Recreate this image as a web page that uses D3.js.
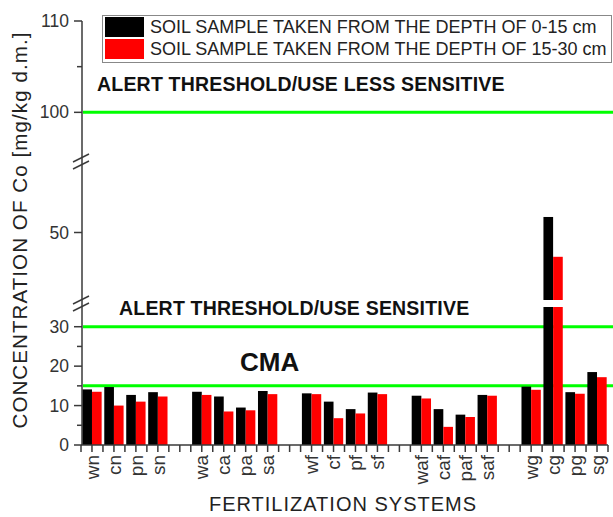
<!DOCTYPE html>
<html>
<head>
<meta charset="utf-8">
<script src="https://cdn.jsdelivr.net/npm/d3@7"></script>
<style>
  body { margin: 0; background: #fff; }
  svg { display: block; font-family: "Liberation Sans", Arial, sans-serif; }
</style>
</head>
<body>
<svg id="chart" width="613" height="517"></svg>
<script>
// fertilization systems, 4 groups of 4 (an empty slot sits between groups)
var categories = ["wn", "cn", "pn", "sn",
                  "wa", "ca", "pa", "sa",
                  "wf", "cf", "pf", "sf",
                  "waf", "caf", "paf", "saf",
                  "wg", "cg", "pg", "sg"];

// Co, mg/kg d.m.
var depth0to15 = [14.1, 14.7, 12.7, 13.4,
                  13.5, 12.3, 9.5, 13.7,
                  13.1, 11.0, 9.1, 13.3,
                  12.5, 9.1, 7.7, 12.7,
                  14.8, 52.3, 13.4, 18.5];
var depth15to30 = [13.5, 10.0, 11.0, 12.3,
                   12.7, 8.5, 8.8, 12.9,
                   12.9, 6.8, 8.0, 12.9,
                   11.8, 4.6, 7.1, 12.5,
                   14.0, 46.4, 13.0, 17.2];

var legendLabels = ["SOIL SAMPLE TAKEN FROM THE DEPTH OF 0-15 cm",
                    "SOIL SAMPLE TAKEN FROM THE DEPTH OF 15-30 cm"];
var seriesColors = ["#000000", "#ff0000"];

// broken y axis: three pieces
var lowerTicks = [0, 10, 20, 30], lowerMinor = [5, 15, 25];
var middleTicks = [50], middleMinor = [];
var upperTicks = [100, 110], upperMinor = [105];

var thresholds = [100, 30, 15];

const svg = d3.select("#chart");
const axisColor = "#3a3a3a";

const axisX = 82, axisRight = 608, baseY = 445;

const segments = [
    {scale: d3.scaleLinear().domain([0, 35]).range([baseY, 307]), ticks: lowerTicks, minor: lowerMinor},
    {scale: d3.scaleLinear().domain([40, 60]).range([300, 165]), ticks: middleTicks, minor: middleMinor},
    {scale: d3.scaleLinear().domain([95, 110]).range([158, 21]), ticks: upperTicks, minor: upperMinor}
];

function segmentFor(v) {
    return segments.find((s) => v >= s.scale.domain()[0] && v <= s.scale.domain()[1]);
}
function y(v) {
    return segmentFor(v).scale(v);
}

const nSlots = categories.length + categories.length / 4 - 1;
const x = d3.scaleLinear().domain([0, nSlots]).range([axisX - 1, axisRight]);
const slotOf = (i) => i + Math.floor(i / 4);
const center = (i) => x(slotOf(i) + 0.5);
const barW = x(0.44) - x(0);

// threshold lines (drawn first, bars over them)
svg.append("g")
    .selectAll("line")
    .data(thresholds)
    .join("line")
    .attr("x1", axisX + 1)
    .attr("x2", 613)
    .attr("y1", (d) => y(d))
    .attr("y2", (d) => y(d))
    .attr("stroke", "#00ff00")
    .attr("stroke-width", 3);

// bars, split across the axis pieces
const bars = svg.append("g");
[depth0to15, depth15to30].forEach((values, k) => {
    values.forEach((v, i) => {
        segments.forEach((s) => {
            const [lo, hi] = s.scale.domain();
            if (v <= lo && lo > 0) return;
            const top = s.scale(Math.min(v, hi));
            const bottom = s.scale(lo);
            if (bottom - top <= 0) return;
            bars.append("rect")
                .attr("x", k === 0 ? center(i) - barW : center(i))
                .attr("y", top)
                .attr("width", barW)
                .attr("height", bottom - top)
                .attr("fill", seriesColors[k]);
        });
    });
});

// y axis
const yAxis = svg.append("g");
yAxis.append("line")
    .attr("x1", axisX).attr("x2", axisX)
    .attr("y1", baseY).attr("y2", y(110))
    .attr("stroke", axisColor).attr("stroke-width", 1.5);

segments.forEach((s) => {
    s.ticks.forEach((t) => {
        yAxis.append("line")
            .attr("x1", axisX - 8).attr("x2", axisX)
            .attr("y1", s.scale(t)).attr("y2", s.scale(t))
            .attr("stroke", axisColor).attr("stroke-width", 1.5);
        yAxis.append("text")
            .attr("x", axisX - 13)
            .attr("y", s.scale(t))
            .attr("dy", "0.35em")
            .attr("text-anchor", "end")
            .attr("font-size", 17.5)
            .attr("fill", "#333")
            .text(t);
    });
    s.minor.forEach((t) => {
        yAxis.append("line")
            .attr("x1", axisX - 5).attr("x2", axisX)
            .attr("y1", s.scale(t)).attr("y2", s.scale(t))
            .attr("stroke", axisColor).attr("stroke-width", 1.5);
    });
});

// break marks between pieces
[[segments[0], segments[1]], [segments[1], segments[2]]].forEach(([a, b]) => {
    [a.scale.range()[1], b.scale.range()[0]].forEach((yy) => {
        yAxis.append("line")
            .attr("x1", axisX - 9).attr("x2", axisX + 7)
            .attr("y1", yy + 4).attr("y2", yy - 4)
            .attr("stroke", axisColor).attr("stroke-width", 1.5);
    });
});

// x axis
const xAxis = svg.append("g");
xAxis.append("line")
    .attr("x1", axisX - 1).attr("x2", axisRight)
    .attr("y1", baseY).attr("y2", baseY)
    .attr("stroke", axisColor).attr("stroke-width", 1.5);

xAxis.selectAll("line.tick")
    .data(d3.range(0, nSlots * 2 + 1))
    .join("line")
    .attr("class", "tick")
    .attr("x1", (k) => x(k / 2)).attr("x2", (k) => x(k / 2))
    .attr("y1", baseY).attr("y2", baseY + 7)
    .attr("stroke", axisColor).attr("stroke-width", 1.5);

xAxis.selectAll("text")
    .data(categories)
    .join("text")
    .attr("transform", (d, i) => `translate(${center(i)},${baseY + 10}) rotate(-90)`)
    .attr("dy", "0.35em")
    .attr("text-anchor", "end")
    .attr("font-size", 19)
    .attr("fill", "#333")
    .text((d) => d);

// axis titles
svg.append("text")
    .attr("transform", "translate(20,230) rotate(-90)")
    .attr("dy", "0.35em")
    .attr("text-anchor", "middle")
    .attr("font-size", 20.5)
    .attr("letter-spacing", 1.1)
    .attr("fill", "#222")
    .text("CONCENTRATION OF Co [mg/kg d.m.]");

svg.append("text")
    .attr("x", 343)
    .attr("y", 504)
    .attr("dy", "0.35em")
    .attr("text-anchor", "middle")
    .attr("font-size", 20)
    .attr("letter-spacing", 1)
    .attr("fill", "#222")
    .text("FERTILIZATION SYSTEMS");

// threshold annotations
const notes = svg.append("g")
    .attr("font-weight", "bold")
    .attr("fill", "#111");
notes.append("text")
    .attr("x", 97).attr("y", y(100) - 21)
    .attr("font-size", 19.5)
    .attr("letter-spacing", 0.2)
    .text("ALERT THRESHOLD/USE LESS SENSITIVE");
notes.append("text")
    .attr("x", 119).attr("y", y(30) - 12)
    .attr("font-size", 19.5)
    .attr("letter-spacing", 0.2)
    .text("ALERT THRESHOLD/USE SENSITIVE");
notes.append("text")
    .attr("x", 240).attr("y", y(15) - 15)
    .attr("font-size", 26)
    .text("CMA");

// legend
const legend = svg.append("g");
legend.append("rect")
    .attr("x", 102.5).attr("y", 15.5)
    .attr("width", 509).attr("height", 47)
    .attr("fill", "#fff")
    .attr("stroke", "#888").attr("stroke-width", 1);
legendLabels.forEach((label, k) => {
    legend.append("rect")
        .attr("x", 105).attr("y", 17 + k * 22)
        .attr("width", 39).attr("height", 20)
        .attr("fill", seriesColors[k]);
    legend.append("text")
        .attr("x", 150).attr("y", 27 + k * 22)
        .attr("dy", "0.35em")
        .attr("font-size", 18)
        .attr("fill", "#222")
        .text(label);
});
</script>
</body>
</html>
